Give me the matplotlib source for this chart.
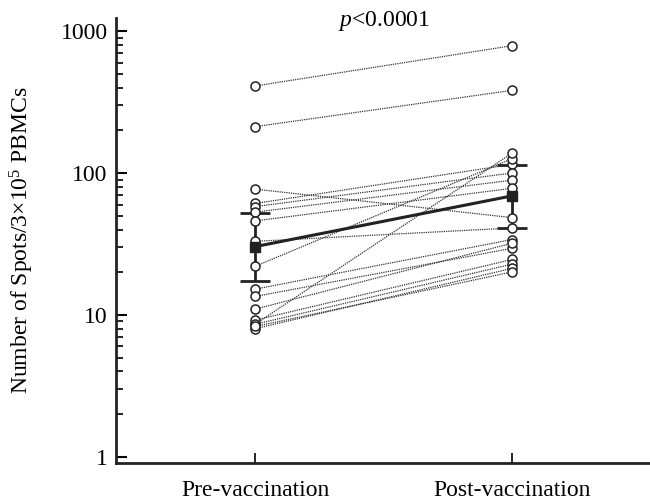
import matplotlib
matplotlib.use("Agg")
import matplotlib.pyplot as plt
from matplotlib.ticker import LogLocator, FixedLocator, NullFormatter

plt.rcParams['font.family'] = ['Liberation Serif', 'DejaVu Serif']
plt.rcParams['mathtext.fontset'] = 'custom'
plt.rcParams['mathtext.rm'] = 'Liberation Serif'
plt.rcParams['mathtext.it'] = 'Liberation Serif:italic'

# spots per 3x10^5 PBMCs, one pair per subject
groups = ["Pre-vaccination", "Post-vaccination"]
pre = [410, 212, 77, 61, 58, 53, 46, 33, 22, 8.6,
       15.2, 13.5, 11, 9.2, 8.6, 8.0, 8.3]
post = [788, 382, 48.5, 115, 100, 89, 78, 41, 126, 138,
        34, 29.5, 32, 24.6, 22.8, 21.3, 20.1]

# summary (geometric mean with error bar ends)
mean_vals = [30.3, 69]
err_low = [17.3, 41]
err_high = [52, 113]

fig = plt.figure(figsize=(6.5, 5), dpi=100)
ax = fig.add_axes([0.1785, 0.074, 0.8215, 0.89])

xs = [0, 1]
for a, b in zip(pre, post):
    ax.plot(xs, [a, b], linestyle=(0, (1, 0.8)), color='#333333', lw=0.9, zorder=1)

# error bars
yerr = [[m - lo for m, lo in zip(mean_vals, err_low)],
        [hi - m for m, hi in zip(mean_vals, err_high)]]
ax.errorbar(xs, mean_vals, yerr=yerr, fmt='none', ecolor='#222222',
            elinewidth=2, capsize=11, capthick=2, zorder=2)

# individual points
ax.plot([0] * len(pre), pre, 'o', ms=6.5, mfc='white', mec='#222222', mew=1.1,
        linestyle='none', zorder=3)
ax.plot([1] * len(post), post, 'o', ms=6.5, mfc='white', mec='#222222', mew=1.1,
        linestyle='none', zorder=3)

# mean line
ax.plot(xs, mean_vals, '-s', color='#222222', lw=2.2, ms=7, zorder=4)

ax.set_yscale('log')
ax.set_ylim(0.907, 1235)
ax.set_xlim(-0.541, 1.537)

ax.yaxis.set_major_locator(FixedLocator([1, 10, 100, 1000]))
ax.set_yticklabels(['1', '10', '100', '1000'])
ax.yaxis.set_minor_locator(LogLocator(base=10, subs=range(2, 10)))
ax.yaxis.set_minor_formatter(NullFormatter())
ax.set_xticks(xs)
ax.set_xticklabels(groups)

ax.tick_params(axis='y', which='major', direction='in', length=8, width=1.5,
               labelsize=17, pad=6)
ax.tick_params(axis='y', which='minor', direction='in', length=5, width=1.2)
ax.tick_params(axis='x', direction='in', length=7, width=1.2, labelsize=17, pad=12)

for s in ['top', 'right']:
    ax.spines[s].set_visible(False)
for s in ['left', 'bottom']:
    ax.spines[s].set_linewidth(2)
    ax.spines[s].set_color('#222222')

ax.set_ylabel('Number of Spots/3×10$^5$ PBMCs', fontsize=17, labelpad=18)
fig.text(384 / 650, 1 - 21 / 500, '$p$<0.0001', fontsize=17, ha='center', va='center')

fig.savefig('out.png', dpi=100)
